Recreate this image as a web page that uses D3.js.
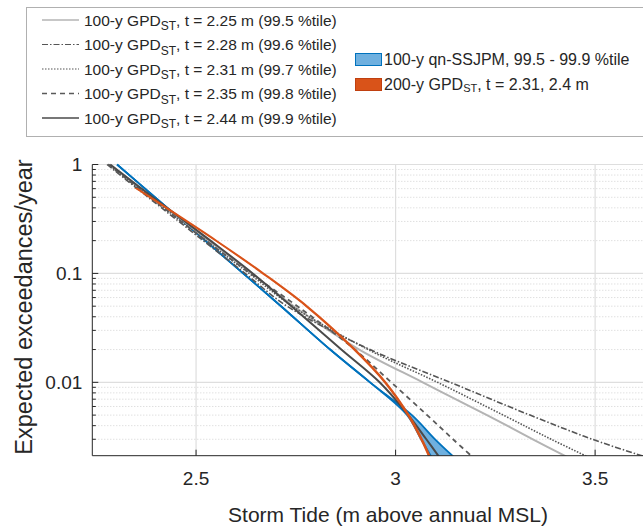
<!DOCTYPE html>
<html><head><meta charset="utf-8">
<script src="https://cdn.jsdelivr.net/npm/d3@7"></script>
<style>body{margin:0;background:#fff}svg{font-family:"Liberation Sans",Arial,sans-serif}</style>
</head><body>
<svg id="c" width="643" height="529"></svg>
<script>
// ---- data (storm tide in m, frequency in exceedances/year) ----
const freqs = [1, 0.5, 0.2, 0.1, 0.05, 0.02, 0.01, 0.005, 0.003, 0.002];
const gpd225 = [2.282, 2.389, 2.532, 2.640, 2.745, 2.909, 3.068, 3.229, 3.344, 3.437];
const gpd228 = [2.277, 2.380, 2.518, 2.623, 2.728, 2.936, 3.137, 3.337, 3.493, 3.638];
const gpd231 = [2.280, 2.385, 2.525, 2.633, 2.741, 2.931, 3.105, 3.270, 3.390, 3.490];
const gpd235 = [2.280, 2.385, 2.525, 2.636, 2.754, 2.898, 2.989, 3.079, 3.144, 3.197];
const gpd244 = [2.285, 2.392, 2.536, 2.642, 2.739, 2.864, 2.960, 3.032, 3.077, 3.112];
const ssjpmLo = [2.302, 2.397, 2.523, 2.618, 2.713, 2.836, 2.936, 3.029, 3.064, 3.092];
const ssjpmHi = [2.302, 2.397, 2.523, 2.618, 2.713, 2.836, 2.936, 3.041, 3.099, 3.150];
const freqs200 = [0.6, 0.5, 0.2, 0.1, 0.05, 0.02, 0.01, 0.005, 0.003, 0.002];
const gpd200Lo = [2.350, 2.383, 2.548, 2.666, 2.775, 2.895, 2.972, 3.030, 3.063, 3.085];
const gpd200Hi = [2.354, 2.387, 2.552, 2.670, 2.779, 2.899, 2.976, 3.034, 3.067, 3.089];
const xTicks = [2.5, 3, 3.5];
const yTicks = [1, 0.1, 0.01];
const legendGPD = [
  {t:"2.25", p:"99.5", data:gpd225},
  {t:"2.28", p:"99.6", data:gpd228},
  {t:"2.31", p:"99.7", data:gpd231},
  {t:"2.35", p:"99.8", data:gpd235},
  {t:"2.44", p:"99.9", data:gpd244}
];
// ---- styles ----
const styles = [
  {stroke:"#b4b4b4", dash:null, w:2},
  {stroke:"#555555", dash:"6,2,1.5,2", w:1.6},
  {stroke:"#555555", dash:"1.5,1.5", w:1.6},
  {stroke:"#5a5a5a", dash:"5,4", w:1.8},
  {stroke:"#4a4a4a", dash:null, w:2}
];
const svg = d3.select("#c");
const L = 92.3, R = 643, T = 164.5, B = 455.7;
const x = d3.scaleLinear().domain([2.24, 3.62]).range([L, R]);
const y = d3.scaleLog().domain([0.00212, 1]).range([B, T]);
const crv = d3.curveCatmullRom.alpha(0.5);

// grid
const g = svg.append("g");
const minor = [];
for (let e = -3; e < 0; e++) for (let k = 2; k <= 9; k++) { const v = k * Math.pow(10, e); if (v >= 0.00212 && v < 1) minor.push(v); }
g.selectAll(".mn").data(minor).join("line").attr("x1", L).attr("x2", R)
  .attr("y1", d => y(d)).attr("y2", d => y(d)).attr("stroke", "#c8c8c8").attr("stroke-dasharray", "1,2").attr("stroke-width", 0.8);
g.selectAll(".mj").data(yTicks).join("line").attr("x1", L).attr("x2", R)
  .attr("y1", d => y(d)).attr("y2", d => y(d)).attr("stroke", "#dedede").attr("stroke-width", 1.2);
g.selectAll(".vx").data(xTicks).join("line").attr("y1", T).attr("y2", B)
  .attr("x1", d => x(d)).attr("x2", d => x(d)).attr("stroke", "#dedede").attr("stroke-width", 1.2);

svg.append("clipPath").attr("id", "clip").append("rect").attr("x", L).attr("y", T - 4).attr("width", R - L).attr("height", B - T + 4);
const plot = svg.append("g").attr("clip-path", "url(#clip)");

// blue band
const band = freqs.map((f, i) => ({f, lo: ssjpmLo[i], hi: ssjpmHi[i]}));
plot.append("path").datum(band)
  .attr("d", d3.area().y(d => y(d.f)).x0(d => x(d.lo)).x1(d => x(d.hi)).curve(crv))
  .attr("fill", "#6fb0df").attr("stroke", "none");
["lo", "hi"].forEach(k => plot.append("path").datum(band)
  .attr("d", d3.line().y(d => y(d.f)).x(d => x(d[k])).curve(crv))
  .attr("fill", "none").attr("stroke", "#0072BD").attr("stroke-width", 1.8));

// GPD lines
const lineGen = d3.line().x(d => x(d[0])).y(d => y(d[1])).curve(crv);
legendGPD.forEach((s, i) => {
  const st = styles[i];
  plot.append("path").datum(s.data.map((v, j) => [v, freqs[j]]))
    .attr("d", lineGen).attr("fill", "none").attr("stroke", st.stroke)
    .attr("stroke-width", st.w).attr("stroke-dasharray", st.dash);
});

// 200-y band
const band2 = freqs200.map((f, i) => ({f, lo: gpd200Lo[i], hi: gpd200Hi[i]}));
plot.append("path").datum(band2)
  .attr("d", d3.area().y(d => y(d.f)).x0(d => x(d.lo)).x1(d => x(d.hi)).curve(crv))
  .attr("fill", "#D95319").attr("stroke", "#D95319").attr("stroke-width", 1.2);

// axes
const ax = svg.append("g").attr("stroke", "#262626");
ax.append("line").attr("x1", L).attr("x2", L).attr("y1", T).attr("y2", B);
ax.append("line").attr("x1", L).attr("x2", R).attr("y1", B).attr("y2", B);
ax.selectAll(".yt").data(yTicks).join("line").attr("x1", L).attr("x2", L + 6).attr("y1", d => y(d)).attr("y2", d => y(d));
ax.selectAll(".ym").data(minor).join("line").attr("x1", L).attr("x2", L + 3.5).attr("y1", d => y(d)).attr("y2", d => y(d));
ax.selectAll(".xt").data(xTicks).join("line").attr("x1", d => x(d)).attr("x2", d => x(d)).attr("y1", B).attr("y2", B - 6);

svg.selectAll(".ytl").data(yTicks).join("text").attr("x", L - 10).attr("y", d => y(d) + 6.5)
  .attr("text-anchor", "end").attr("font-size", 19).attr("fill", "#262626").text(d => d3.format("")(d));
svg.selectAll(".xtl").data(xTicks).join("text").attr("x", d => x(d)).attr("y", B + 29)
  .attr("text-anchor", "middle").attr("font-size", 19).attr("fill", "#262626").text(d => d);
svg.append("text").attr("x", 388).attr("y", 522).attr("text-anchor", "middle").attr("font-size", 21)
  .attr("fill", "#262626").text("Storm Tide (m above annual MSL)");
svg.append("text").attr("transform", "translate(32,307) rotate(-90)").attr("text-anchor", "middle")
  .attr("font-size", 23.5).attr("fill", "#262626").text("Expected exceedances/year");

// legend
const lg = svg.append("g");
lg.append("rect").attr("x", 26.5).attr("y", 7.5).attr("width", 640).attr("height", 129)
  .attr("fill", "#fff").attr("stroke", "#b0b0b0");
legendGPD.forEach((s, i) => {
  const st = styles[i], cy = 20 + i * 24.5;
  lg.append("line").attr("x1", 42).attr("x2", 79).attr("y1", cy).attr("y2", cy)
    .attr("stroke", st.stroke).attr("stroke-width", st.w * 0.75).attr("stroke-dasharray", st.dash);
  const t = lg.append("text").attr("x", 84).attr("y", cy + 5.5).attr("font-size", 15.5).attr("fill", "#262626");
  t.append("tspan").text("100-y GPD");
  t.append("tspan").attr("font-size", 12).attr("dy", 4.5).text("ST");
  t.append("tspan").attr("dy", -4.5).text(`, t = ${s.t} m (${s.p} %tile)`);
});
lg.append("rect").attr("x", 355.5).attr("y", 53.5).attr("width", 26).attr("height", 12)
  .attr("fill", "#6fb0df").attr("stroke", "#0072BD");
lg.append("text").attr("x", 384).attr("y", 65).attr("font-size", 16).attr("fill", "#262626")
  .text("100-y qn-SSJPM, 99.5 - 99.9 %tile");
lg.append("rect").attr("x", 355.5).attr("y", 78.5).attr("width", 26).attr("height", 12)
  .attr("fill", "#D95319").attr("stroke", "#c04010");
const t2 = lg.append("text").attr("x", 384).attr("y", 90).attr("font-size", 16).attr("fill", "#262626");
t2.append("tspan").text("200-y GPD");
t2.append("tspan").attr("font-size", 11).attr("dy", 1.5).text("ST");
t2.append("tspan").attr("dy", -1.5).text(", t = 2.31, 2.4 m");
</script>
</body></html>
